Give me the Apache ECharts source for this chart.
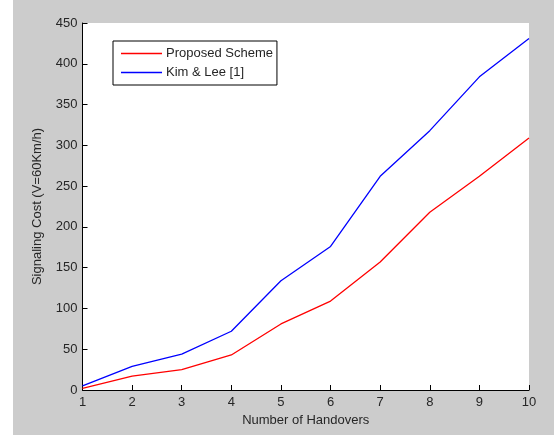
<!DOCTYPE html>
<html>
<head>
<meta charset="utf-8">
<script src="https://cdn.jsdelivr.net/npm/echarts@6/dist/echarts.min.js"></script>
<style>
html,body{margin:0;padding:0;background:#fff;}
#wrap{position:absolute;left:13px;top:0;width:541px;height:435px;background:#cccccc;}
#chart{position:absolute;left:0;top:0;width:554px;height:435px;}
</style>
</head>
<body>
<div id="wrap"></div>
<div id="chart"></div>
<script>
const handovers = [1, 2, 3, 4, 5, 6, 7, 8, 9, 10];
const proposedScheme = [2, 17, 25, 43, 81, 109, 157, 218, 262, 309];
const kimLee = [5, 29, 44, 72, 134, 176, 262, 318, 384, 431];
const yTicks = [0, 50, 100, 150, 200, 250, 300, 350, 400, 450];

const chart = echarts.init(document.getElementById('chart'), null, {renderer: 'canvas'});
const font = 'Liberation Sans, Arial, sans-serif';
const txt = '#262626';
chart.setOption({
  backgroundColor: 'transparent',
  animation: false,
  grid: {left: 82.5, right: 25, top: 23, bottom: 45, show: true, backgroundColor: '#ffffff', borderWidth: 0},
  legend: {
    orient: 'vertical', left: 113, top: 41,
    backgroundColor: '#ffffff', borderColor: '#000000', borderWidth: 1, borderRadius: 0,
    padding: [6, 4, 6, 8], itemGap: 6, itemWidth: 41, itemHeight: 1.6, icon: 'rect',
    textStyle: {fontFamily: font, fontSize: 13, color: txt, padding: [0, 0, 0, -1]},
    data: [
      {name: 'Proposed Scheme', itemStyle: {color: '#ff0000'}},
      {name: 'Kim & Lee [1]', itemStyle: {color: '#0000ff'}}
    ]
  },
  xAxis: {
    type: 'value', min: 1, max: 10, interval: 1,
    name: 'Number of Handovers', nameLocation: 'middle', nameGap: 24,
    nameTextStyle: {fontFamily: font, fontSize: 13, color: txt},
    axisLine: {lineStyle: {color: '#000', width: 1}},
    axisTick: {inside: true, length: 5, lineStyle: {color: '#000'}},
    axisLabel: {fontFamily: font, fontSize: 13, color: txt, margin: 6},
    splitLine: {show: false}
  },
  yAxis: {
    type: 'value', min: 0, max: 450, interval: 50,
    name: 'Signaling Cost (V=60Km/h)', nameLocation: 'middle', nameGap: 39,
    nameTextStyle: {fontFamily: font, fontSize: 13, color: txt},
    axisLine: {show: true, lineStyle: {color: '#000', width: 1}},
    axisTick: {show: true, inside: true, length: 5, lineStyle: {color: '#000'}},
    axisLabel: {fontFamily: font, fontSize: 13, color: txt, margin: 5,
      formatter: v => yTicks.includes(v) ? String(v) : ''},
    splitLine: {show: false}
  },
  series: [
    {name: 'Proposed Scheme', type: 'line', data: handovers.map((x, i) => [x, proposedScheme[i]]),
     showSymbol: false, lineStyle: {color: '#ff0000', width: 1.3}, itemStyle: {color: '#ff0000'}},
    {name: 'Kim & Lee [1]', type: 'line', data: handovers.map((x, i) => [x, kimLee[i]]),
     showSymbol: false, lineStyle: {color: '#0000ff', width: 1.3}, itemStyle: {color: '#0000ff'}}
  ]
});
</script>
</body>
</html>
